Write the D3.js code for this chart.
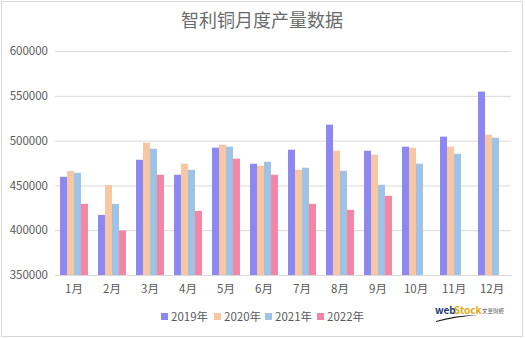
<!DOCTYPE html>
<html>
<head>
<meta charset="utf-8">
<script src="https://cdn.jsdelivr.net/npm/d3@7"></script>
<style>
  html, body { margin: 0; padding: 0; background: #fff; }
  svg { display: block; }
  text { font-family: "Noto Sans CJK SC", "Noto Sans", sans-serif; }
</style>
</head>
<body>
<svg id="chart" width="525" height="338"></svg>
<script>
// Chilean copper monthly output (tonnes)
const months = ["1月", "2月", "3月", "4月", "5月", "6月", "7月", "8月", "9月", "10月", "11月", "12月"];
const years = ["2019年", "2020年", "2021年", "2022年"];
const output2019 = [459600, 417100, 478600, 461900, 492100, 474200, 489800, 517800, 488700, 493200, 504400, 554700];
const output2020 = [466000, 450300, 497700, 474200, 495400, 471900, 467400, 488700, 484200, 492100, 493200, 506600];
const output2021 = [464100, 429400, 490900, 467400, 493200, 476400, 469700, 466300, 450700, 474200, 485300, 503200];
const output2022 = [429400, 399600, 461900, 421600, 479800, 461900, 429400, 422700, 438400, null, null, null];
const yTicks = [350000, 400000, 450000, 500000, 550000, 600000];
const colors = ["#8c87f2", "#f7c6a3", "#9fc3e4", "#f585a5"];

const series = [output2019, output2020, output2021, output2022];

const svg = d3.select("#chart");
const W = 525, H = 338;
const m = { left: 55, right: 14, top: 51, bottom: 63 };
const iw = W - m.left - m.right, ih = H - m.top - m.bottom;

// chart frame
svg.append("rect").attr("x", 1.5).attr("y", 1.5).attr("width", W - 4).attr("height", H - 3)
  .attr("fill", "#fff").attr("stroke", "#d9d9d9").attr("stroke-width", 1);

// title
svg.append("text").attr("x", 262).attr("y", 27).attr("text-anchor", "middle")
  .attr("font-size", 18).attr("fill", "#6a6a6a").text("智利铜月度产量数据");

const g = svg.append("g").attr("transform", `translate(${m.left},${m.top})`);

const x0 = d3.scaleBand().domain(months).range([0, iw]).paddingInner(0.265).paddingOuter(0.1325);
const x1 = d3.scaleBand().domain(years).range([0, x0.bandwidth()]);
const y = d3.scaleLinear().domain([350000, 600000]).range([ih, 0]);

// gridlines + y labels
const yAxis = g.append("g").call(d3.axisLeft(y).tickValues(yTicks).tickSize(-iw).tickPadding(7).tickFormat(d3.format("d")));
yAxis.select(".domain").remove();
yAxis.selectAll("line").attr("stroke", "#d9d9d9");
yAxis.selectAll("text").attr("font-size", 11.5).attr("fill", "#595959");

// bars
const groups = g.selectAll(".month").data(months).join("g")
  .attr("transform", d => `translate(${x0(d)},0)`);
groups.selectAll("rect")
  .data((mo, i) => series.map((s, k) => ({ year: years[k], v: s[i], k })).filter(d => d.v != null))
  .join("rect")
  .attr("x", d => x1(d.year))
  .attr("width", x1.bandwidth())
  .attr("y", d => y(d.v))
  .attr("height", d => y(350000) - y(d.v))
  .attr("fill", d => colors[d.k]);

// x axis labels
const xAxis = g.append("g").attr("transform", `translate(0,${ih})`)
  .call(d3.axisBottom(x0).tickSize(0).tickPadding(10));
xAxis.select(".domain").attr("stroke", "#d9d9d9");
xAxis.selectAll("text").attr("font-size", 11.5).attr("fill", "#595959");

// legend
const legendX = [161, 214, 265, 317];
const lg = svg.append("g");
years.forEach((yr, k) => {
  lg.append("rect").attr("x", legendX[k]).attr("y", 313).attr("width", 7).attr("height", 7).attr("fill", colors[k]);
  lg.append("text").attr("x", legendX[k] + 10).attr("y", 321).attr("font-size", 11.5)
    .attr("fill", "#595959").text(yr);
});

// logo
const logo = svg.append("g");
logo.append("text").attr("x", 435).attr("y", 314).attr("font-size", 10).attr("font-weight", "bold")
  .attr("font-family", "Liberation Sans, sans-serif").attr("fill", "#1f3a7a").text("web");
logo.append("text").attr("x", 454).attr("y", 314).attr("font-size", 10).attr("font-weight", "bold")
  .attr("font-family", "Liberation Sans, sans-serif").attr("fill", "#e6a817").text("Stock");
logo.append("path").attr("d", "M436,321 Q455,315 478,315 Q455,317 436,322 Z").attr("fill", "#1a1a1a");
logo.append("text").attr("x", 482).attr("y", 313).attr("font-size", 5.5).attr("fill", "#555").text("文華財經");
</script>
</body>
</html>
